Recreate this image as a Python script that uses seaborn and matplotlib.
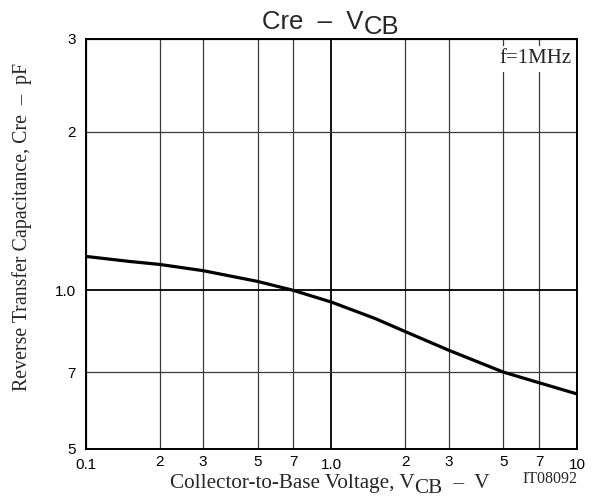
import matplotlib
matplotlib.use("Agg")
import matplotlib.pyplot as plt
import seaborn as sns
import pandas as pd
from matplotlib.ticker import FixedLocator, FixedFormatter, NullLocator

# ---- data ----
vcb = [0.1, 0.15, 0.2, 0.3, 0.5, 0.7, 1.0, 1.5, 2.0, 3.0, 5.0, 7.0, 10.0]
cre = [1.16, 1.135, 1.12, 1.09, 1.04, 1.0, 0.95, 0.885, 0.835, 0.77, 0.70, 0.668, 0.636]

x_ticks = [0.1, 0.2, 0.3, 0.5, 0.7, 1.0, 2, 3, 5, 7, 10]
x_labels = ["0.1", "2", "3", "5", "7", "1.0", "2", "3", "5", "7", "10"]
y_ticks = [0.5, 0.7, 1.0, 2, 3]
y_labels = ["5", "7", "1.0", "2", "3"]

df = pd.DataFrame({"VCB": vcb, "Cre": cre})

sns.set_theme(style="white")
plt.rcParams["font.family"] = ["Liberation Sans", "DejaVu Sans"]
serif = ["Liberation Serif", "DejaVu Serif"]
sans = ["Liberation Sans", "DejaVu Sans"]

W, H = 602, 503
fig = plt.figure(figsize=(W / 100, H / 100), dpi=100)
ax = fig.add_axes([86 / W, 1 - 449 / H, (577 - 86) / W, (449 - 39) / H])

ax.set_xscale("log")
ax.set_yscale("log")
ax.set_xlim(0.1, 10)
ax.set_ylim(0.5, 3)

sns.lineplot(data=df, x="VCB", y="Cre", ax=ax, color="black", linewidth=2.3, zorder=5)
ax.set_xlabel("")
ax.set_ylabel("")

ax.xaxis.set_major_locator(FixedLocator(x_ticks))
ax.xaxis.set_major_formatter(FixedFormatter(x_labels))
ax.xaxis.set_minor_locator(NullLocator())
ax.yaxis.set_major_locator(FixedLocator(y_ticks))
ax.yaxis.set_major_formatter(FixedFormatter(y_labels))
ax.yaxis.set_minor_locator(NullLocator())

ax.grid(True, which="major", color="#3a3a3a", linewidth=0.9)
for v, gl in zip(x_ticks, ax.xaxis.get_gridlines()):
    if v == 1.0:
        gl.set_color("black")
        gl.set_linewidth(1.3)
for v, gl in zip(y_ticks, ax.yaxis.get_gridlines()):
    if v == 1.0:
        gl.set_color("black")
        gl.set_linewidth(1.3)

ax.tick_params(axis="both", length=0, labelsize=11, colors="black")
ax.tick_params(axis="x", pad=4.3)
ax.tick_params(axis="y", pad=7.5)
for v, t in zip(x_ticks, ax.xaxis.get_major_ticks()):
    if v in (0.1, 1.0, 10):
        t.set_pad(6.8)

for s in ax.spines.values():
    s.set_color("black")
    s.set_linewidth(1.4)

renderer = fig.canvas.get_renderer()


def px(x, y):
    return x / W, 1 - y / H


def place_pieces(pieces, cx, base_y, **kw):
    """Place text pieces (string, drop_px) side by side, centred on cx."""
    texts = []
    widths = []
    for s, drop in pieces:
        t = fig.text(0, 0, s, ha="left", va="baseline", **kw)
        widths.append(t.get_window_extent(renderer).width)
        texts.append((t, drop))
    x = cx - sum(widths) / 2
    for (t, drop), w in zip(texts, widths):
        t.set_position(px(x, base_y + drop))
        x += w
    return texts


# title: Cre – V_CB (subscript same size, lowered)
place_pieces([("Cre  –  V", 0), ("CB", 5)], 331, 29, family=sans, fontsize=18.5)

# x label
place_pieces([("Collector-to-Base Voltage, V", 0), ("CB", 5), ("  –  V", 0)],
             329.5, 488, family=serif, fontsize=15.2)

# y label
fig.text(*px(22, 226.5), "Reverse Transfer Capacitance, Cre  –  pF",
         rotation=90, ha="center", va="center", family=serif, fontsize=14.3)

# frequency note
ax.text(0.988, 0.975, "f=1MHz", transform=ax.transAxes, ha="right", va="top",
        family=serif, fontsize=15, zorder=6,
        bbox=dict(facecolor="white", edgecolor="none", pad=2.5))

# figure code
fig.text(*px(577, 479), "IT08092", ha="right", va="center",
         family=serif, fontsize=11.5)

fig.savefig("out.png", dpi=100, facecolor="white")
